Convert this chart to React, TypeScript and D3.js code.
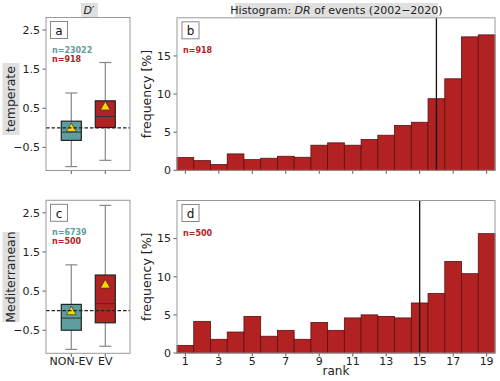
import React from 'react';
import * as d3 from 'd3';

// box plot stats: [whiskerLow, q1, median, q3, whiskerHigh, mean]
const groups = ['NON-EV', 'EV'];
const temperateNonEv = [-0.99, -0.32, -0.11, 0.17, 0.89, -0.02];
const temperateEv = [-0.83, 0.01, 0.29, 0.69, 1.67, 0.53];
const medNonEv = [-0.99, -0.5, -0.19, 0.16, 1.17, -0.03];
const medEv = [-0.91, -0.31, 0.18, 0.91, 2.69, 0.65];
const boxTicks = [-0.5, 0.5, 1.5, 2.5];

const ranks = d3.range(1, 20);
const histTemperate = [1.67, 1.27, 0.75, 2.15, 1.4, 1.58, 1.84, 1.71, 3.29, 3.6, 3.29, 4.04, 4.6, 5.88, 6.3, 9.39, 12.0, 17.5, 17.76];
const histMed = [1.0, 4.15, 1.8, 2.75, 4.8, 2.2, 2.97, 1.8, 4.0, 2.97, 4.6, 5.0, 4.8, 4.6, 6.56, 7.8, 12.0, 10.4, 15.65];
const histTicks = [0, 5, 10, 15];
const rankTicks = [1, 3, 5, 7, 9, 11, 13, 15, 17, 19];

const TEAL = '#5f9ea0';
const RED = '#b22222';
const FONT = 'DejaVu Sans, sans-serif';

const BoxPanel = ({ top, nonEv, ev, letter, nTeal, nRed, showX }) => {
  const bottom = top + 153;
  const y = d3.scaleLinear().domain([-1.09, 2.82]).range([bottom, top]);
  const x = d3.scalePoint().domain(groups).range([71.3, 105.3]);
  const left = 46, right = 130, bw = 20;
  return (
    <g>
      {boxTicks.map(t => (
        <g key={t}>
          <line x1={left - 3.5} x2={left} y1={y(t)} y2={y(t)} stroke="#333" strokeWidth={0.8} />
          <text x={left - 6} y={y(t)} dy="0.35em" textAnchor="end" fontSize={11} fill="#222">
            {t < 0 ? '\u2212' + Math.abs(t) : t}
          </text>
        </g>
      ))}
      {[nonEv, ev].map((s, i) => {
        const cx = x(groups[i]);
        const fill = i === 0 ? TEAL : RED;
        return (
          <g key={i}>
            <line x1={cx} x2={cx} y1={y(s[0])} y2={y(s[1])} stroke="#888" strokeWidth={1.2} />
            <line x1={cx} x2={cx} y1={y(s[3])} y2={y(s[4])} stroke="#888" strokeWidth={1.2} />
            <line x1={cx - 6} x2={cx + 6} y1={y(s[0])} y2={y(s[0])} stroke="#888" strokeWidth={1.2} />
            <line x1={cx - 6} x2={cx + 6} y1={y(s[4])} y2={y(s[4])} stroke="#888" strokeWidth={1.2} />
            <rect x={cx - bw / 2} y={y(s[3])} width={bw} height={y(s[1]) - y(s[3])} fill={fill} stroke="#222" strokeWidth={1.2} />
            <line x1={cx - bw / 2} x2={cx + bw / 2} y1={y(s[2])} y2={y(s[2])} stroke="#333" strokeWidth={1} />
            <path
              d={d3.symbol(d3.symbolTriangle, 42)()}
              transform={`translate(${cx},${y(s[5])})`}
              fill="#ffd700"
              stroke="#333"
              strokeWidth={0.7}
            />
          </g>
        );
      })}
      <line x1={left} x2={right} y1={y(0)} y2={y(0)} stroke="#222" strokeWidth={1.1} strokeDasharray="3.5,2" />
      {groups.map(g => (
        <line key={g} x1={x(g)} x2={x(g)} y1={bottom} y2={bottom + 3.5} stroke="#333" strokeWidth={0.8} />
      ))}
      {showX && groups.map(g => (
        <text key={g} x={x(g)} y={bottom + 12} textAnchor="middle" fontSize={11} fill="#222">{g}</text>
      ))}
      <rect x={left} y={top} width={right - left} height={bottom - top} fill="none" stroke="#999" strokeWidth={1} />
      <rect x={50.5} y={top + 4} width={17} height={17} fill="white" stroke="#888" strokeWidth={1} />
      <text x={59} y={top + 13} dy="0.35em" textAnchor="middle" fontSize={12} fill="#111">{letter}</text>
      <text x={52} y={top + 35} fontSize={8} fontWeight="bold" fill={TEAL}>{nTeal}</text>
      <text x={52} y={top + 44} fontSize={8} fontWeight="bold" fill={RED}>{nRed}</text>
    </g>
  );
};

const HistPanel = ({ top, values, marker, letter, nRed, showX }) => {
  const bottom = top + 152.5;
  const left = 177, right = 495;
  const x = d3.scaleLinear().domain([0.5, 19.5]).range([left, right]);
  const y = d3.scaleLinear().domain([0, 20]).range([bottom, top]);
  return (
    <g>
      {values.map((v, i) => (
        <rect
          key={i}
          x={x(ranks[i] - 0.5)}
          y={y(v)}
          width={x(ranks[i] + 0.5) - x(ranks[i] - 0.5)}
          height={y(0) - y(v)}
          fill={RED}
          stroke="#5a1010"
          strokeWidth={0.8}
        />
      ))}
      <line x1={x(marker)} x2={x(marker)} y1={top} y2={bottom} stroke="#111" strokeWidth={1.3} />
      {histTicks.map(t => (
        <g key={t}>
          <line x1={left - 3.5} x2={left} y1={y(t)} y2={y(t)} stroke="#333" strokeWidth={0.8} />
          <text x={left - 6} y={y(t)} dy="0.35em" textAnchor="end" fontSize={11} fill="#222">{t}</text>
        </g>
      ))}
      {rankTicks.map(t => (
        <g key={t}>
          <line x1={x(t)} x2={x(t)} y1={bottom} y2={bottom + 3.5} stroke="#333" strokeWidth={0.8} />
          {showX && (
            <text x={x(t)} y={bottom + 11.5} textAnchor="middle" fontSize={11} fill="#222">{t}</text>
          )}
        </g>
      ))}
      <rect x={left} y={top} width={right - left} height={bottom - top} fill="none" stroke="#999" strokeWidth={1} />
      <rect x={182} y={top + 4} width={17} height={17} fill="white" stroke="#888" strokeWidth={1} />
      <text x={190.5} y={top + 13} dy="0.35em" textAnchor="middle" fontSize={12} fill="#111">{letter}</text>
      <text x={183} y={top + 35} fontSize={8} fontWeight="bold" fill={RED}>{nRed}</text>
      <text
        transform={`translate(151,${(top + bottom) / 2}) rotate(-90)`}
        textAnchor="middle"
        fontSize={12.5}
        fill="#222"
      >
        frequency [%]
      </text>
    </g>
  );
};

const App = () => {
  return (
    <svg
      width={500}
      height={381}
      style={{ position: 'absolute', left: 0, top: 0, background: 'white' }}
      fontFamily={FONT}
    >
      {/* column titles */}
      <rect x={81} y={3} width={17} height={14} fill="#e0e0e0" />
      <text x={89} y={10} dy="0.35em" textAnchor="middle" fontSize={11} fontStyle="italic" fill="#222">D′</text>
      <rect x={235} y={3} width={203} height={14} fill="#e0e0e0" />
      <text x={336.5} y={10} dy="0.35em" textAnchor="middle" fontSize={11} fill="#222">
        Histogram: <tspan fontStyle="italic">DR</tspan> of events (2002−2020)
      </text>

      {/* row labels */}
      <g transform="translate(11,99) rotate(-90)">
        <rect x={-36} y={-8.5} width={72} height={17} fill="#e0e0e0" />
        <text textAnchor="middle" dy="0.35em" fontSize={12.5} fill="#222">temperate</text>
      </g>
      <g transform="translate(11,277) rotate(-90)">
        <rect x={-45} y={-8.5} width={90} height={17} fill="#e0e0e0" />
        <text textAnchor="middle" dy="0.35em" fontSize={12.5} fill="#222">Mediterranean</text>
      </g>

      <BoxPanel top={17.5} nonEv={temperateNonEv} ev={temperateEv} letter="a" nTeal="n=23022" nRed="n=918" showX={false} />
      <BoxPanel top={200.3} nonEv={medNonEv} ev={medEv} letter="c" nTeal="n=6739" nRed="n=500" showX={true} />
      <HistPanel top={17.8} values={histTemperate} marker={16} letter="b" nRed="n=918" showX={false} />
      <HistPanel top={200.5} values={histMed} marker={15} letter="d" nRed="n=500" showX={true} />

      <text x={336} y={375} textAnchor="middle" fontSize={12} fill="#222">rank</text>
    </svg>
  );
};

export default App;
